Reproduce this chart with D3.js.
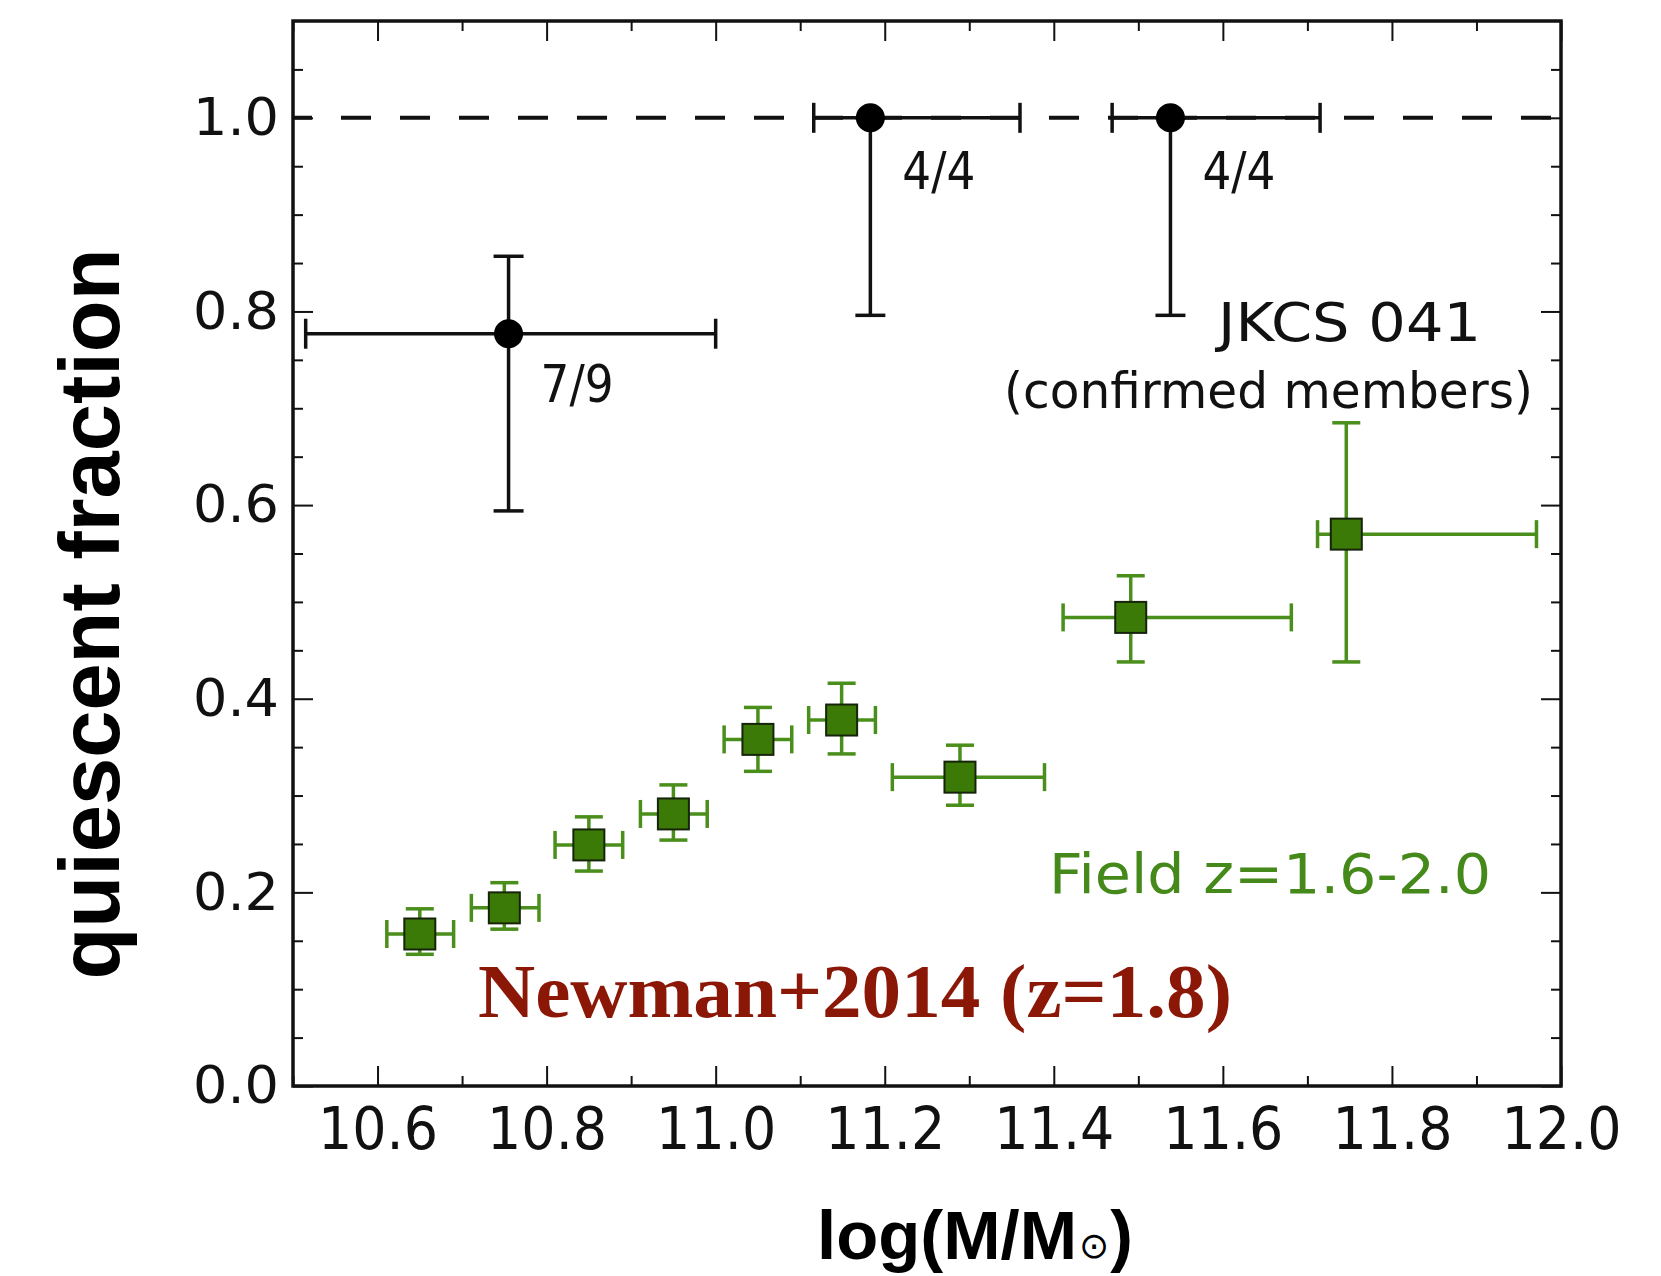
<!DOCTYPE html>
<html>
<head>
<meta charset="utf-8">
<script src="https://cdn.jsdelivr.net/npm/d3@7"></script>
<style>
  html, body { margin: 0; padding: 0; background: #fff; }
  svg { display: block; }
</style>
</head>
<body>
<svg id="chart" width="1661" height="1276"></svg>
<script>
// ---- Data ----
// JKCS 041 confirmed members
const clusterMass   = [10.755, 11.183, 11.538];
const clusterFrac   = [0.777, 1.0, 1.0];
const clusterMassLo = [10.515, 11.116, 11.469];
const clusterMassHi = [11.0, 11.360, 11.715];
const clusterFracLo = [0.594, 0.796, 0.796];
const clusterFracHi = [0.857, 1.0, 1.0];
const clusterLabels = ["7/9", "4/4", "4/4"];

// Newman+2014 field z=1.6-2.0
const fieldMass   = [10.65, 10.75, 10.85, 10.95, 11.05, 11.149, 11.289, 11.491, 11.746];
const fieldFrac   = [0.157, 0.184, 0.249, 0.281, 0.358, 0.378, 0.319, 0.484, 0.570];
const fieldMassLo = [10.611, 10.711, 10.81, 10.911, 11.01, 11.11, 11.209, 11.411, 11.712];
const fieldMassHi = [10.690, 10.791, 10.89, 10.99, 11.09, 11.189, 11.389, 11.681, 11.971];
const fieldFracLo = [0.136, 0.162, 0.222, 0.254, 0.325, 0.343, 0.290, 0.438, 0.438];
const fieldFracHi = [0.183, 0.210, 0.278, 0.311, 0.391, 0.416, 0.352, 0.527, 0.685];

const xMajorTicks = [10.6, 10.8, 11.0, 11.2, 11.4, 11.6, 11.8, 12.0];
const xTickLabels = ["10.6", "10.8", "11.0", "11.2", "11.4", "11.6", "11.8", "12.0"];
const xMinorTicks = [10.5, 10.7, 10.9, 11.1, 11.3, 11.5, 11.7, 11.9];
const yMajorTicks = [0.0, 0.2, 0.4, 0.6, 0.8, 1.0];
const yTickLabels = ["0.0", "0.2", "0.4", "0.6", "0.8", "1.0"];
const yMinorTicks = [0.05, 0.1, 0.15, 0.25, 0.3, 0.35, 0.45, 0.5, 0.55, 0.65, 0.7, 0.75, 0.85, 0.9, 0.95, 1.05];

// ---- Layout ----
const L = 293, R = 1561, T = 21, B = 1086;
const svg = d3.select("#chart");
const x = d3.scaleLinear().domain([10.5, 12.0]).range([L, R]);
const y = d3.scaleLinear().domain([0, 1.1]).range([B, T]);

const tickFont = "'DejaVu Sans', Verdana, sans-serif";

// ---- Axes (ticks inward on all four sides) ----
function styleAxis(g) {
  g.select(".domain").remove();
  g.selectAll(".tick line").attr("stroke", "#111").attr("stroke-width", 2);
}
// bottom
svg.append("g").attr("transform", `translate(0,${B})`)
  .call(d3.axisBottom(x).tickValues(xMajorTicks).tickSize(-20).tickPadding(22)
        .tickFormat((d, i) => xTickLabels[i]))
  .call(styleAxis)
  .call(g => g.selectAll("text").attr("font-family", tickFont).attr("font-size", 58)
        .attr("fill", "#111").attr("transform", "scale(0.93,1)"));
svg.append("g").attr("transform", `translate(0,${B})`)
  .call(d3.axisBottom(x).tickValues(xMinorTicks).tickSize(-10).tickFormat(""))
  .call(styleAxis);
// top
svg.append("g").attr("transform", `translate(0,${T})`)
  .call(d3.axisTop(x).tickValues(xMajorTicks).tickSize(-20).tickFormat(""))
  .call(styleAxis);
svg.append("g").attr("transform", `translate(0,${T})`)
  .call(d3.axisTop(x).tickValues(xMinorTicks).tickSize(-10).tickFormat(""))
  .call(styleAxis);
// left
svg.append("g").attr("transform", `translate(${L},0)`)
  .call(d3.axisLeft(y).tickValues(yMajorTicks).tickSize(-20).tickPadding(14)
        .tickFormat((d, i) => yTickLabels[i]))
  .call(styleAxis)
  .call(g => g.selectAll("text").attr("font-family", tickFont).attr("font-size", 52)
        .attr("fill", "#111").attr("textLength", 86).attr("lengthAdjust", "spacingAndGlyphs"));
svg.append("g").attr("transform", `translate(${L},0)`)
  .call(d3.axisLeft(y).tickValues(yMinorTicks).tickSize(-10).tickFormat(""))
  .call(styleAxis);
// right
svg.append("g").attr("transform", `translate(${R},0)`)
  .call(d3.axisRight(y).tickValues(yMajorTicks).tickSize(-20).tickFormat(""))
  .call(styleAxis);
svg.append("g").attr("transform", `translate(${R},0)`)
  .call(d3.axisRight(y).tickValues(yMinorTicks).tickSize(-10).tickFormat(""))
  .call(styleAxis);

// frame
svg.append("rect").attr("x", L).attr("y", T).attr("width", R - L).attr("height", B - T)
  .attr("fill", "none").attr("stroke", "#111").attr("stroke-width", 3.5);

// clip for plot area
svg.append("clipPath").attr("id", "plotclip").append("rect")
  .attr("x", L).attr("y", T).attr("width", R - L).attr("height", B - T);
const plot = svg.append("g").attr("clip-path", "url(#plotclip)");

// dashed reference line at 1.0
plot.append("line")
  .attr("x1", x(10.5)).attr("x2", x(12.0)).attr("y1", y(1.0)).attr("y2", y(1.0))
  .attr("stroke", "#111").attr("stroke-width", 4)
  .attr("stroke-dasharray", "30,29").attr("stroke-dashoffset", 11);

// ---- error bar helper ----
function errorBars(g, n, xs, ys, xlo, xhi, ylo, yhi, color, width, cap) {
  const idx = d3.range(n);
  const eb = g.append("g").attr("stroke", color).attr("stroke-width", width).attr("fill", "none");
  eb.selectAll(".hx").data(idx).join("line")
    .attr("x1", i => x(xlo[i])).attr("x2", i => x(xhi[i]))
    .attr("y1", i => y(ys[i])).attr("y2", i => y(ys[i]));
  eb.selectAll(".vy").data(idx).join("line")
    .attr("x1", i => x(xs[i])).attr("x2", i => x(xs[i]))
    .attr("y1", i => y(ylo[i])).attr("y2", i => y(yhi[i]));
  [xlo, xhi].forEach(arr => {
    eb.append("g").selectAll("line").data(idx).join("line")
      .attr("x1", i => x(arr[i])).attr("x2", i => x(arr[i]))
      .attr("y1", i => y(ys[i]) - cap).attr("y2", i => y(ys[i]) + cap);
  });
  [ylo, yhi].forEach(arr => {
    eb.append("g").selectAll("line").data(idx).join("line")
      .attr("x1", i => x(xs[i]) - cap).attr("x2", i => x(xs[i]) + cap)
      .attr("y1", i => y(arr[i])).attr("y2", i => y(arr[i]));
  });
}

// field (green)
const greenBar = "#4a8e1b", greenFill = "#3b7a06", greenText = "#45891a";
errorBars(plot, fieldMass.length, fieldMass, fieldFrac, fieldMassLo, fieldMassHi,
          fieldFracLo, fieldFracHi, greenBar, 3.5, 14);
plot.append("g").selectAll("rect").data(d3.range(fieldMass.length)).join("rect")
  .attr("x", i => x(fieldMass[i]) - 15.5).attr("y", i => y(fieldFrac[i]) - 15.5)
  .attr("width", 31).attr("height", 31)
  .attr("fill", greenFill).attr("stroke", "#16240a").attr("stroke-width", 2);

// cluster (black)
errorBars(plot, clusterMass.length, clusterMass, clusterFrac, clusterMassLo, clusterMassHi,
          clusterFracLo, clusterFracHi, "#111", 3.5, 15);
plot.append("g").selectAll("circle").data(d3.range(clusterMass.length)).join("circle")
  .attr("cx", i => x(clusterMass[i])).attr("cy", i => y(clusterFrac[i]))
  .attr("r", 14.5).attr("fill", "#000");

// fraction labels
svg.append("g").selectAll("text").data(d3.range(clusterMass.length)).join("text")
  .attr("x", i => x(clusterMass[i]) + 32)
  .attr("y", i => y(clusterFrac[i]) + (i === 0 ? 68 : 71))
  .attr("font-family", tickFont).attr("font-size", 51).attr("fill", "#111")
  .attr("textLength", 73).attr("lengthAdjust", "spacingAndGlyphs")
  .text(i => clusterLabels[i]);

// annotations
svg.append("text").attr("x", 1218).attr("y", 341)
  .attr("font-family", tickFont).attr("font-size", 54).attr("fill", "#111")
  .attr("textLength", 263).attr("lengthAdjust", "spacingAndGlyphs")
  .text("JKCS 041");
svg.append("text").attr("x", 1004).attr("y", 408)
  .attr("font-family", tickFont).attr("font-size", 49).attr("fill", "#111")
  .attr("textLength", 529).attr("lengthAdjust", "spacingAndGlyphs")
  .text("(confirmed members)");
svg.append("text").attr("x", 1049).attr("y", 893)
  .attr("font-family", tickFont).attr("font-size", 55).attr("fill", greenText)
  .attr("textLength", 442).attr("lengthAdjust", "spacingAndGlyphs")
  .text("Field z=1.6-2.0");
svg.append("text").attr("x", 478).attr("y", 1017)
  .attr("font-family", "'Liberation Serif', 'DejaVu Serif', serif").attr("font-weight", "bold")
  .attr("font-size", 77).attr("fill", "#8b1707")
  .attr("textLength", 754).attr("lengthAdjust", "spacingAndGlyphs")
  .text("Newman+2014 (z=1.8)");

// axis titles
svg.append("text")
  .attr("transform", "translate(119,614) rotate(-90)")
  .attr("text-anchor", "middle")
  .attr("font-family", "'Liberation Sans', Arial, sans-serif").attr("font-weight", "bold")
  .attr("font-size", 86).attr("fill", "#000")
  .attr("textLength", 731).attr("lengthAdjust", "spacingAndGlyphs")
  .text("quiescent fraction");

const xt = svg.append("text").attr("x", 817).attr("y", 1259)
  .attr("font-family", "'Liberation Sans', Arial, sans-serif").attr("font-weight", "bold")
  .attr("font-size", 68).attr("fill", "#000");
xt.append("tspan").attr("textLength", 260).attr("lengthAdjust", "spacingAndGlyphs").text("log(M/M");
xt.append("tspan").attr("font-family", tickFont).attr("font-weight", "normal")
  .attr("font-size", 36).attr("dy", -1).attr("dx", 2).text("⊙");
xt.append("tspan").attr("dy", 1).attr("dx", 1).text(")");
</script>
</body>
</html>
